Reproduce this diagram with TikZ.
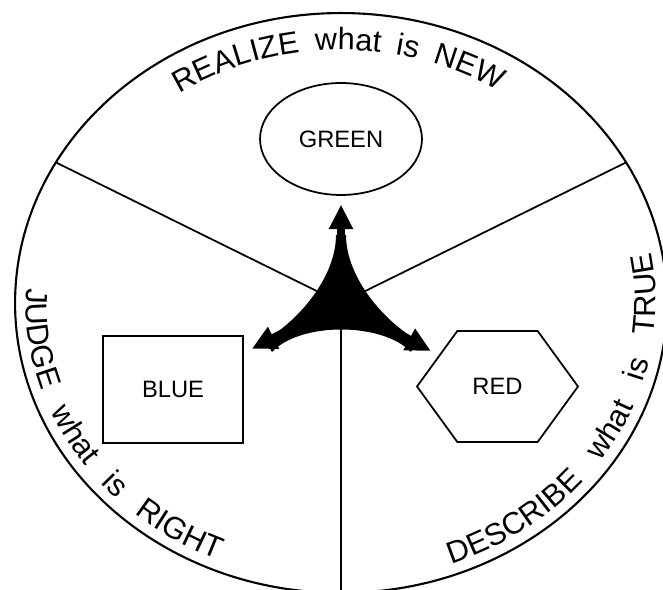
\documentclass[tikz,border=0pt]{standalone}
\usepackage{fontspec}
\setmainfont{Liberation Sans}
\usetikzlibrary{arrows.meta, positioning, shapes.geometric, shapes.symbols, decorations.text, calc}
\newcommand{\rimfont}{\fontsize{17.5}{20}\selectfont}
\newcommand{\boxfont}{\fontsize{13.5}{16}\selectfont}

\begin{document}
\begin{tikzpicture}[x=0.02cm, y=0.02cm,
      shape box/.style={draw, line width=1pt, font=\boxfont, inner sep=0pt},
      arm/.style={line width=4.5pt, -{Triangle[length=14pt, width=13pt]}, shorten >=5pt},
      rim text/.style={decorate, decoration={text along path, text={#1},
         text align={fit to path stretching spaces}}}]
      \useasboundingbox (0,0) rectangle (663,590);
      % Wheel
      \coordinate (C) at (341,287);
      \draw[line width=1.2pt] (C) ellipse [x radius=6.52cm, y radius=5.8cm];
      % Dividers
      \draw[line width=1pt] (C) -- ++(151:6.52cm and 5.8cm);
      \draw[line width=1pt] (C) -- ++(29:6.52cm and 5.8cm);
      \draw[line width=1pt] (C) -- ++(270:6.52cm and 5.8cm);
      % Rim texts
      \path[rim text={|\rimfont|REALIZE what is NEW}]
         ($(C)+(124:5.78cm and 5.06cm)$) arc [start angle=124, end angle=57, x radius=5.78cm, y radius=5.06cm];
      \path[rim text={|\rimfont|JUDGE what is RIGHT}]
         ($(C)+(177:6.30cm and 5.58cm)$) arc [start angle=177, end angle=247, x radius=6.30cm, y radius=5.58cm];
      \path[rim text={|\rimfont|DESCRIBE what is TRUE}]
         ($(C)+(290.6:6.30cm and 5.58cm)$) arc [start angle=290.6, end angle=370.4, x radius=6.30cm, y radius=5.58cm];
      % Shapes
      \node[shape box, ellipse, minimum width=3.24cm, minimum height=2.24cm] (green) at (341,451) {GREEN};
      \node[shape box, rectangle, minimum width=2.8cm, minimum height=2.14cm] (blue) at (173,200.5) {BLUE};
      \node[shape box, signal, signal to=west and east, signal pointer angle=108,
         minimum width=3.22cm, minimum height=2.22cm] (red) at (497.5,203.5) {RED};
      % Three-way arrow
      \coordinate (hub) at (341,287);
      \fill (336,355) .. controls (336,312) and (297,268) .. (265,250)
         -- (272,238) .. controls (300,268) and (382,268) .. (411,238)
         -- (417,250) .. controls (385,268) and (346,312) .. (346,355) -- cycle;
      \draw[arm] (hub) -- (green);
      \draw[arm] (hub) -- (blue);
      \draw[arm] (hub) -- (red);
   \end{tikzpicture}
\end{document}
